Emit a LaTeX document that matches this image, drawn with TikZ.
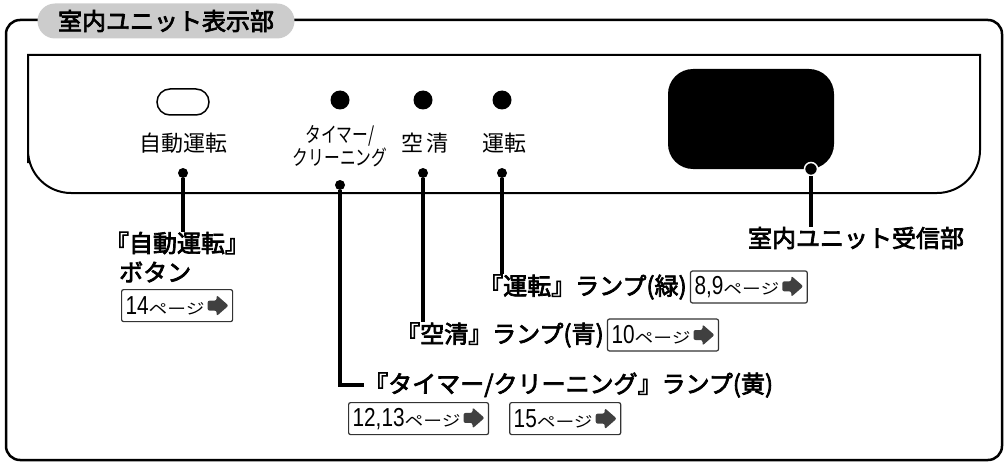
\documentclass[tikz,border=0pt]{standalone}
\usepackage{fontspec}
\setmainfont{Noto Sans CJK JP}
\newfontfamily\labelfont{Noto Sans CJK JP}[FakeBold=3]
\newfontfamily\narrowfont{Noto Sans CJK JP}[FakeStretch=0.75]
\newfontfamily\widefont{Noto Sans CJK JP}[FakeStretch=1.25]
\newfontfamily\digitfont{Liberation Sans}[FakeStretch=0.8]
\usetikzlibrary{positioning}

\newcommand{\fs}[1]{\fontsize{#1}{#1}\selectfont}
\newcommand{\pgarrow}{\tikz[x=1pt, y=1pt, baseline=2pt]\fill[black!75] (0,5.5) -- (9,5.5) -- (9,0) -- (21,10.5) -- (9,21) -- (9,15.5) -- (0,15.5) -- cycle;}
\newcommand{\seepage}[1]{{\digitfont\fs{26}#1}{\widefont\fs{15}ページ}\hspace{3pt}\pgarrow}

\tikzset{
  frame/.style={line width=2.5pt, rounded corners=14pt},
  panel/.style={line width=2pt},
  lamp/.style={circle, fill, inner sep=0, minimum size=19pt},
  pin/.style={circle, fill, inner sep=0, minimum size=10pt},
  lead/.style={line width=4pt},
  panel label/.style={font=\fs{22}, inner sep=0},
  lead label/.style={font=\labelfont\fs{24}, inner sep=0},
  pagebox/.style={draw=black!80, line width=1.2pt, rounded corners=2pt, minimum height=32pt, inner xsep=4pt, inner ysep=2pt}
}

\begin{document}
\begin{tikzpicture}[x=1pt, y=-1pt]
  \useasboundingbox (0,0) rectangle (1006,468);
  \draw[frame] (6,20) rectangle (1002,460);
  \node[fill=black!20, rounded corners=17.5pt, minimum width=257pt, minimum height=35pt, inner sep=0, font=\labelfont\fs{24}] (title) at (166,21) {室内ユニット表示部};
  \draw[panel] (28,55) -- (980,55) -- (980,120) [rounded corners=43pt] -- (980,193) -- (28,193) -- (28,120) [sharp corners] -- cycle;

  \node[draw, line width=1.5pt, rounded corners=13pt, minimum width=52pt, minimum height=26pt, inner sep=0] (button) at (183,102) {};
  \node[lamp] (lamp-timer) at (340,100) {};
  \node[lamp] (lamp-kusei) at (423,100) {};
  \node[lamp] (lamp-unten) at (502,100) {};
  \node[fill, rounded corners=25pt, minimum width=166pt, minimum height=100pt] (recv) at (751,119) {};

  \node[panel label] (t-auto) at (183,143) {自動運転};
  \node[panel label, font=\narrowfont\fontsize{21}{23}\selectfont, align=center] (t-timer) at (340,146) {タイマー/\\クリーニング};
  \node[panel label] (t-kusei) at (425,143) {空\,清};
  \node[panel label] (t-unten) at (504,143) {運転};

  \node[pin] (p-auto) at (183,173) {};
  \node[pin] (p-timer) at (340,185) {};
  \node[pin] (p-kusei) at (423,173) {};
  \node[pin] (p-unten) at (502,173) {};
  \node[pin, draw=white, line width=1.5pt, minimum size=13pt] (p-recv) at (811,169) {};

  \node[lead label] (l-auto) at (177,243) {『自動運転』};
  \node[lead label, anchor=west] (l-button) at (119,272) {ボタン};
  \node[pagebox, anchor=north west] (b-auto) at (121,289) {\seepage{14}};

  \node[lead label, anchor=west] (l-unten) at (479,287) {『運転』ランプ(緑)};
  \node[pagebox, right=3pt of l-unten] (b-unten) {\seepage{8,9}};
  \node[lead label, anchor=west] (l-kusei) at (396,335) {『空清』ランプ(青)};
  \node[pagebox, right=3pt of l-kusei] (b-kusei) {\seepage{10}};
  \node[lead label, anchor=west] (l-timer) at (364,385) {『タイマー/クリーニング』ランプ(黄)};
  \node[pagebox, anchor=north west] (b-timer1) at (348,402) {\seepage{12,13}};
  \node[pagebox, right=20pt of b-timer1] (b-timer2) {\seepage{15}};
  \node[lead label] (l-recv) at (856,238) {室内ユニット受信部};

  \draw[lead] (p-auto) -- (p-auto |- l-auto.north);
  \draw[lead] (p-timer) |- (l-timer.west);
  \draw[lead] (p-kusei) -- (p-kusei |- l-kusei.north);
  \draw[lead] (p-unten) -- (p-unten |- l-unten.north);
  \draw[lead] (p-recv) -- (p-recv |- l-recv.north);
\end{tikzpicture}
\end{document}
